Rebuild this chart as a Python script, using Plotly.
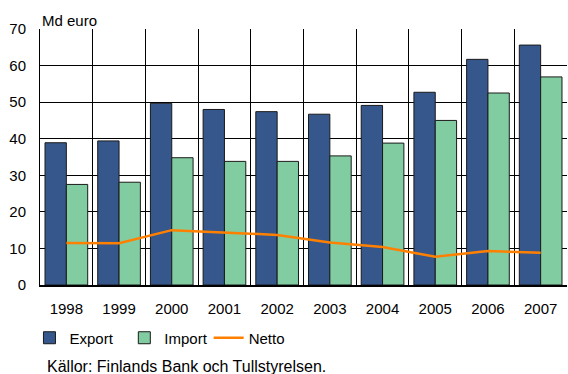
import plotly.graph_objects as go

years = ["1998", "1999", "2000", "2001", "2002", "2003", "2004", "2005", "2006", "2007"]
export = [38.9, 39.4, 49.7, 48.0, 47.4, 46.7, 49.1, 52.7, 61.7, 65.6]
import_ = [27.5, 28.1, 34.8, 33.8, 33.8, 35.3, 38.8, 45.0, 52.5, 56.9]
netto = [11.5, 11.4, 15.0, 14.3, 13.7, 11.6, 10.4, 7.7, 9.3, 8.8]

FONT = "Liberation Sans, Arial, sans-serif"
x = list(range(len(years)))

fig = go.Figure()
fig.add_trace(go.Bar(
    x=x, y=export, name="Export", legend="legend",
    marker=dict(color="#36578C", line=dict(color="#1a1a1a", width=1)),
))
fig.add_trace(go.Bar(
    x=x, y=import_, name="Import", legend="legend2",
    marker=dict(color="#82CCA2", line=dict(color="#1a1a1a", width=1)),
))
fig.add_trace(go.Scatter(
    x=x, y=netto, name="Netto", mode="lines", legend="legend3",
    line=dict(color="#FF8000", width=2.5),
))

legend_common = dict(
    orientation="h", xanchor="left", y=-0.207, yanchor="middle",
    font=dict(size=15), itemwidth=30, bgcolor="rgba(0,0,0,0)",
)

fig.update_layout(
    width=568, height=374,
    margin=dict(l=40, r=1, t=29, b=89),
    paper_bgcolor="white", plot_bgcolor="white",
    barmode="group", bargap=0.19, bargroupgap=0,
    font=dict(family=FONT, size=15, color="black"),
    showlegend=True,
    legend=dict(x=-0.02, **legend_common),
    legend2=dict(x=0.16, **legend_common),
    legend3=dict(x=0.32, **legend_common),
    annotations=[
        dict(text="Md euro", xref="paper", yref="paper", x=0, y=1.0,
             xanchor="left", yanchor="bottom", showarrow=False,
             font=dict(size=15), yshift=-2),
        dict(text="Källor: Finlands Bank och Tullstyrelsen.", xref="paper", yref="paper",
             x=0.0095, y=-0.32, xanchor="left", yanchor="middle", showarrow=False,
             font=dict(size=16)),
    ],
)

fig.update_xaxes(
    range=[-0.5, len(years) - 0.5],
    tickmode="array", tickvals=x, ticktext=years,
    showgrid=False, ticks="", tickfont=dict(size=15),
    ticklabelstandoff=9,
    showline=True, linecolor="black", linewidth=2,
    minor=dict(tickvals=[i - 0.5 for i in range(len(years) + 1)],
               showgrid=True, gridcolor="black", gridwidth=1, ticks=""),
    zeroline=False,
)
fig.update_yaxes(
    range=[0, 70], dtick=10,
    showgrid=True, gridcolor="black", gridwidth=1,
    showline=True, linecolor="black", linewidth=1,
    ticks="", ticklabelstandoff=10, zeroline=False,
    tickfont=dict(size=15),
)

fig.write_html("out.html")
